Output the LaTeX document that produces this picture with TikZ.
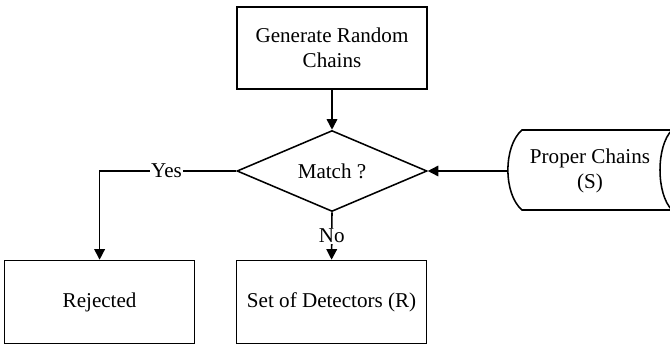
\documentclass[tikz,border=0pt]{standalone}
\usepackage{fontspec}
\setmainfont{Liberation Serif}
\usetikzlibrary{shapes.geometric}
\usetikzlibrary{arrows.meta}

\begin{document}
\begin{tikzpicture}[scale=1,
  box/.style={draw, line width=1.1pt, minimum width=4.75cm, minimum height=2.05cm, align=center, inner sep=0pt},
  decide/.style={draw, diamond, line width=1.1pt, minimum width=4.75cm, minimum height=2.025cm, aspect=2.35, inner sep=0pt},
  arr/.style={line width=1.1pt, -{Triangle[length=7.5pt,width=7.5pt]}},
  lbl/.style={fill=white, inner sep=1pt}]
\useasboundingbox (0,0) rectangle (16.75,8.65);
\fontsize{15}{18}\selectfont

\node [box] (gen) at (8.3,7.45) {Generate Random\\Chains};
\node [decide] (match) at (8.3,4.375) {Match ?};
\node [box, minimum height=2.075cm] (rej) at (2.49,1.1) {Rejected};
\node [box, minimum height=2.075cm] (det) at (8.29,1.1) {Set of Detectors (R)};

% stored data
\draw [line width=1.1pt] (16.8,5.4) -- (13.05,5.4) .. controls (12.58,5.0) and (12.58,3.8) .. (13.05,3.4) -- (16.8,3.4) .. controls (16.4,3.8) and (16.4,5.0) .. (16.8,5.4);
\node [align=center] (store) at (14.75,4.375) {Proper Chains\\(S)};
\coordinate (sin) at (12.7,4.375);

\draw [arr] (gen) -- (match);
\draw [arr] (sin) -- (match.east);
\draw [arr] (match.west) -| node[lbl, pos=0.255] {Yes} (rej.north);
\draw [arr] (match.south) -- node[lbl] {No} (det.north);

\end{tikzpicture}
\end{document}
